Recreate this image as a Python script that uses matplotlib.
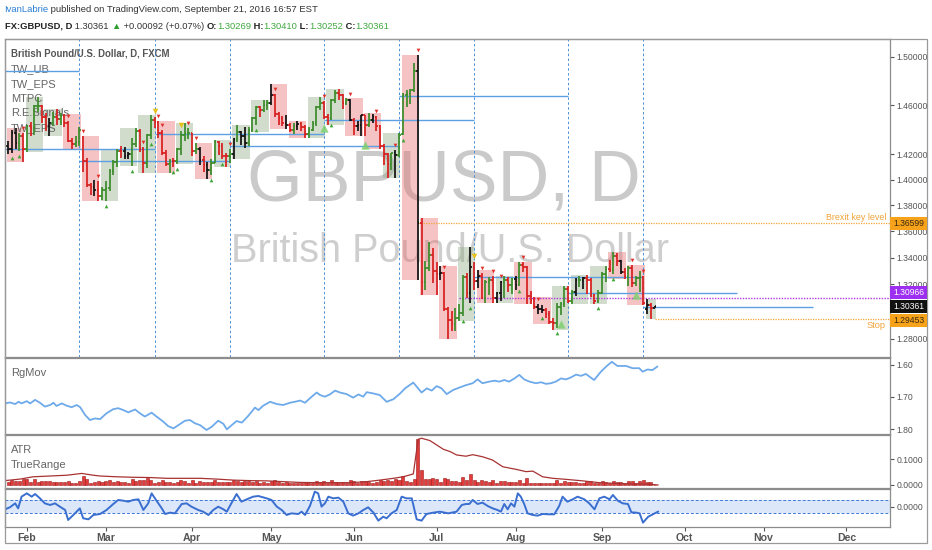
import numpy as np
import matplotlib
matplotlib.use("Agg")
import matplotlib.pyplot as plt
from matplotlib.collections import LineCollection
from matplotlib.patches import Rectangle
from matplotlib.ticker import FixedLocator, FixedFormatter, NullLocator

# ---- daily GBPUSD bars, one row per week (Mon..Fri), 2016-01-25 .. 2016-09-21
first_day = "2016-01-25"
last_day = "2016-09-21"

opens = [1.4265, 1.4240, 1.4370, 1.4290, 1.4350,
         1.4245, 1.4425, 1.4415, 1.4590, 1.4595,
         1.4500, 1.4425, 1.4455, 1.4500, 1.4485,
         1.4510, 1.4455, 1.4305, 1.4285, 1.4300,
         1.4330, 1.4145, 1.3955, 1.3940, 1.3915,
         1.3870, 1.3920, 1.3935, 1.4070, 1.4140,
         1.4230, 1.4225, 1.4190, 1.4200, 1.4285,
         1.4390, 1.4240, 1.4130, 1.4355, 1.4475,
         1.4460, 1.4375, 1.4215, 1.4120, 1.4150,
         1.4145, 1.4245, 1.4360, 1.4370, 1.4370,
         1.4225, 1.4245, 1.4155, 1.4115, 1.4080,
         1.4135, 1.4300, 1.4270, 1.4190, 1.4185,
         1.4200, 1.4325, 1.4380, 1.4350, 1.4290,
         1.4400, 1.4490, 1.4580, 1.4560, 1.4600,
         1.4615, 1.4680, 1.4525, 1.4490, 1.4450,
         1.4440, 1.4395, 1.4430, 1.4445, 1.4420,
         1.4365, 1.4395, 1.4450, 1.4585, 1.4620,
         1.4500, 1.4490, 1.4640, 1.4700, 1.4680,
         1.4620, 1.4640, 1.4480, 1.4430, 1.4435,
         1.4515, 1.4440, 1.4480, 1.4500, 1.4430,
         1.4265, 1.4205, 1.4120, 1.4210, 1.4195,
         1.4365, 1.4680, 1.4690, 1.4720, 1.4880,
         1.3660, 1.3220, 1.3325, 1.3420, 1.3300,
         1.3275, 1.3285, 1.3020, 1.2940, 1.2910,
         1.2950, 1.2985, 1.3255, 1.3135, 1.3330,
         1.3225, 1.3260, 1.3100, 1.3220, 1.3235,
         1.3100, 1.3135, 1.3215, 1.3230, 1.3195,
         1.3240, 1.3195, 1.3345, 1.3330, 1.3110,
         1.3085, 1.3035, 1.3015, 1.3010, 1.2980,
         1.2925, 1.2915, 1.3035, 1.3055, 1.3165,
         1.3075, 1.3145, 1.3230, 1.3235, 1.3245,
         1.3230, 1.3110, 1.3080, 1.3135, 1.3275,
         1.3315, 1.3305, 1.3410, 1.3375, 1.3295,
         1.3265, 1.3325, 1.3210, 1.3245, 1.3255,
         1.3020, 1.3045, 1.30269]

highs = [1.4305, 1.4395, 1.4410, 1.4375, 1.4370,
         1.4440, 1.4465, 1.4600, 1.4668, 1.4600,
         1.4535, 1.4490, 1.4545, 1.4570, 1.4535,
         1.4525, 1.4470, 1.4335, 1.4350, 1.4420,
         1.4345, 1.4175, 1.3970, 1.3995, 1.3990,
         1.3945, 1.3990, 1.4085, 1.4155, 1.4245,
         1.4270, 1.4260, 1.4220, 1.4330, 1.4410,
         1.4405, 1.4260, 1.4365, 1.4515, 1.4505,
         1.4470, 1.4400, 1.4235, 1.4160, 1.4175,
         1.4255, 1.4385, 1.4455, 1.4410, 1.4375,
         1.4295, 1.4260, 1.4185, 1.4140, 1.4165,
         1.4315, 1.4310, 1.4290, 1.4215, 1.4245,
         1.4335, 1.4440, 1.4390, 1.4420, 1.4420,
         1.4500, 1.4590, 1.4590, 1.4640, 1.4640,
         1.4770, 1.4690, 1.4545, 1.4510, 1.4515,
         1.4450, 1.4455, 1.4470, 1.4460, 1.4440,
         1.4420, 1.4470, 1.4590, 1.4670, 1.4635,
         1.4525, 1.4650, 1.4720, 1.4735, 1.4690,
         1.4660, 1.4650, 1.4495, 1.4470, 1.4520,
         1.4520, 1.4535, 1.4530, 1.4510, 1.4435,
         1.4285, 1.4215, 1.4215, 1.4235, 1.4370,
         1.4700, 1.4720, 1.4730, 1.4950, 1.5018,
         1.3705, 1.3375, 1.3520, 1.3470, 1.3365,
         1.3340, 1.3290, 1.3035, 1.3000, 1.3025,
         1.3055, 1.3270, 1.3285, 1.3480, 1.3370,
         1.3305, 1.3285, 1.3235, 1.3255, 1.3260,
         1.3145, 1.3225, 1.3265, 1.3255, 1.3250,
         1.3260, 1.3370, 1.3370, 1.3340, 1.3150,
         1.3105, 1.3055, 1.3045, 1.3025, 1.3000,
         1.2955, 1.3060, 1.3070, 1.3185, 1.3185,
         1.3155, 1.3245, 1.3260, 1.3255, 1.3270,
         1.3245, 1.3130, 1.3155, 1.3290, 1.3340,
         1.3380, 1.3445, 1.3435, 1.3385, 1.3320,
         1.3340, 1.3345, 1.3265, 1.3300, 1.3260,
         1.3090, 1.3060, 1.30410]

lows = [1.4200, 1.4215, 1.4240, 1.4230, 1.4140,
        1.4220, 1.4350, 1.4360, 1.4545, 1.4455,
        1.4390, 1.4350, 1.4425, 1.4440, 1.4435,
        1.4420, 1.4300, 1.4240, 1.4260, 1.4270,
        1.4060, 1.3945, 1.3880, 1.3870, 1.3835,
        1.3840, 1.3835, 1.3910, 1.4035, 1.4100,
        1.4170, 1.4160, 1.4160, 1.4110, 1.4260,
        1.4220, 1.4055, 1.4095, 1.4325, 1.4410,
        1.4335, 1.4195, 1.4105, 1.4055, 1.4100,
        1.4125, 1.4195, 1.4310, 1.4325, 1.4185,
        1.4200, 1.4115, 1.4060, 1.4005, 1.4040,
        1.4130, 1.4195, 1.4165, 1.4100, 1.4135,
        1.4160, 1.4300, 1.4275, 1.4255, 1.4265,
        1.4380, 1.4440, 1.4500, 1.4540, 1.4560,
        1.4600, 1.4500, 1.4440, 1.4430, 1.4405,
        1.4380, 1.4365, 1.4400, 1.4390, 1.4335,
        1.4335, 1.4385, 1.4430, 1.4560, 1.4485,
        1.4435, 1.4475, 1.4620, 1.4640, 1.4570,
        1.4600, 1.4470, 1.4355, 1.4390, 1.4350,
        1.4350, 1.4420, 1.4450, 1.4385, 1.4245,
        1.4115, 1.4010, 1.4075, 1.4010, 1.4180,
        1.4360, 1.4580, 1.4610, 1.4705, 1.3229,
        1.3120, 1.3160, 1.3300, 1.3210, 1.3120,
        1.3230, 1.3005, 1.2798, 1.2860, 1.2855,
        1.2930, 1.2970, 1.3095, 1.3060, 1.3160,
        1.3175, 1.3090, 1.3065, 1.3120, 1.3065,
        1.3060, 1.3080, 1.3100, 1.3145, 1.3130,
        1.3160, 1.3190, 1.3290, 1.3055, 1.3055,
        1.3020, 1.2980, 1.2985, 1.2950, 1.2910,
        1.2865, 1.2880, 1.2975, 1.3035, 1.3065,
        1.3055, 1.3110, 1.3180, 1.3165, 1.3125,
        1.3105, 1.3055, 1.3065, 1.3125, 1.3215,
        1.3295, 1.3280, 1.3335, 1.3275, 1.3240,
        1.3185, 1.3180, 1.3185, 1.3140, 1.3050,
        1.2980, 1.2945, 1.30252]

closes = [1.4240, 1.4370, 1.4290, 1.4350, 1.4245,
          1.4425, 1.4415, 1.4590, 1.4595, 1.4500,
          1.4425, 1.4455, 1.4500, 1.4485, 1.4510,
          1.4455, 1.4305, 1.4285, 1.4300, 1.4400,
          1.4145, 1.3955, 1.3940, 1.3915, 1.3870,
          1.3920, 1.3935, 1.4070, 1.4140, 1.4230,
          1.4225, 1.4190, 1.4200, 1.4285, 1.4390,
          1.4240, 1.4130, 1.4355, 1.4475, 1.4460,
          1.4375, 1.4215, 1.4120, 1.4150, 1.4145,
          1.4245, 1.4360, 1.4370, 1.4370, 1.4225,
          1.4245, 1.4155, 1.4115, 1.4080, 1.4135,
          1.4300, 1.4270, 1.4190, 1.4185, 1.4200,
          1.4325, 1.4380, 1.4350, 1.4290, 1.4400,
          1.4490, 1.4580, 1.4560, 1.4600, 1.4615,
          1.4680, 1.4525, 1.4490, 1.4450, 1.4440,
          1.4395, 1.4430, 1.4445, 1.4420, 1.4365,
          1.4395, 1.4450, 1.4585, 1.4620, 1.4500,
          1.4490, 1.4640, 1.4700, 1.4680, 1.4620,
          1.4640, 1.4480, 1.4430, 1.4435, 1.4515,
          1.4440, 1.4480, 1.4500, 1.4430, 1.4265,
          1.4205, 1.4120, 1.4210, 1.4195, 1.4360,
          1.4680, 1.4690, 1.4720, 1.4880, 1.3660,
          1.3220, 1.3325, 1.3420, 1.3300, 1.3275,
          1.3285, 1.3020, 1.2940, 1.2910, 1.2950,
          1.2985, 1.3255, 1.3135, 1.3330, 1.3225,
          1.3260, 1.3100, 1.3220, 1.3235, 1.3100,
          1.3135, 1.3215, 1.3230, 1.3195, 1.3240,
          1.3195, 1.3345, 1.3330, 1.3110, 1.3085,
          1.3035, 1.3015, 1.3010, 1.2980, 1.2925,
          1.2915, 1.3035, 1.3055, 1.3165, 1.3075,
          1.3145, 1.3230, 1.3235, 1.3245, 1.3230,
          1.3110, 1.3080, 1.3135, 1.3275, 1.3315,
          1.3305, 1.3410, 1.3375, 1.3295, 1.3265,
          1.3325, 1.3210, 1.3245, 1.3255, 1.3060,
          1.3045, 1.30269, 1.30361]

# bars painted black by the trend indicator (bar numbers)
black_bars = [0, 1, 2, 11, 23, 31, 32, 51, 53, 60, 62, 63, 70, 74, 77, 91, 93, 94,
              97, 103, 109, 115, 123, 125, 130, 131, 135, 141, 142, 151, 153, 163,
              170, 172]

# signal markers (bar numbers)
sell_marks = [4, 16, 20, 24, 36, 40, 41, 48, 50, 59, 71, 84, 91, 98, 103, 109, 116,
              126, 129, 131, 137, 141, 166, 169]
buy_marks = [1, 3, 26, 33, 38, 44, 45, 54, 57, 66, 86, 105, 121, 123, 136, 142, 146,
             157, 161]
big_buy_marks = [84, 95, 147, 167]
yellow_marks = [39, 46, 124]

# monthly option expiries and TW_UB levels (each level lives two expiries)
opex_dates = ["2015-12-18", "2016-01-15", "2016-02-19", "2016-03-18", "2016-04-15",
              "2016-05-20", "2016-06-17", "2016-07-15", "2016-08-19", "2016-09-16",
              "2016-10-21", "2016-11-18", "2016-12-16"]
ub_levels = [1.4883, 1.4243, 1.4147, 1.4364, 1.4268, 1.4478, 1.4675, 1.3254,
             1.3135, 1.3029]

brexit_level = 1.36599
brexit_from = "2016-06-24"
purple_level = 1.30966
purple_from = "2016-07-11"
stop_level = 1.29453
stop_from = "2016-09-21"

price_ticks = [1.28, 1.32, 1.34, 1.36, 1.38, 1.40, 1.42, 1.46, 1.50]

month_starts = ["2016-02", "2016-03", "2016-04", "2016-05", "2016-06", "2016-07",
                "2016-08", "2016-09", "2016-10", "2016-11", "2016-12"]
month_labels = ["Feb", "Mar", "Apr", "May", "Jun", "Jul", "Aug", "Sep", "Oct",
                "Nov", "Dec"]

# RgMov line (bar position, value)
rg_x = [-0.8, 0.5, 1.9, 2.8, 3.6, 5.0, 5.9, 7.2, 8.5, 9.8,
        11.2, 12.1, 12.9, 14.3, 15.6, 16.9, 18.3, 19.2, 20.5, 21.8,
        23.1, 24.5, 26.2, 28.0, 29.3, 30.7, 32.0, 33.8, 35.1, 36.4,
        38.2, 39.5, 41.3, 42.6, 44.0, 45.3, 47.1, 48.4, 49.7, 51.1,
        52.8, 54.2, 55.9, 57.3, 58.2, 59.5, 60.8, 62.2, 63.9, 65.7,
        66.6, 67.9, 69.7, 71.5, 73.2, 75.0, 76.3, 77.7, 79.0, 80.3,
        82.1, 83.0, 84.3, 85.6, 87.0, 88.3, 90.1, 91.8, 93.2, 94.5,
        95.4, 97.2, 98.9, 100.7, 102.5, 104.3, 105.6, 107.8, 110.0, 111.4,
        112.7, 114.0, 115.3, 116.7, 118.4, 120.2, 121.8, 123.6, 124.9, 126.2,
        128.0, 129.4, 130.7, 132.0, 133.3, 134.7, 136.0, 137.3, 138.7, 140.4,
        141.8, 143.1, 144.4, 145.7, 147.1, 148.4, 149.7, 151.1, 152.4, 153.7,
        155.9, 157.7, 159.1, 160.6, 162.1, 164.4, 166.1, 167.9, 168.8, 170.1,
        171.4, 172.7]
rg_val = [1.720, 1.717, 1.722, 1.715, 1.720, 1.713, 1.720, 1.709, 1.718, 1.730,
          1.725, 1.718, 1.728, 1.720, 1.727, 1.732, 1.725, 1.732, 1.756, 1.772,
          1.767, 1.769, 1.751, 1.738, 1.735, 1.741, 1.748, 1.739, 1.751, 1.761,
          1.749, 1.761, 1.777, 1.791, 1.798, 1.788, 1.774, 1.772, 1.782, 1.788,
          1.803, 1.793, 1.774, 1.784, 1.801, 1.788, 1.775, 1.780, 1.759, 1.733,
          1.741, 1.727, 1.715, 1.722, 1.725, 1.718, 1.715, 1.711, 1.718, 1.704,
          1.686, 1.694, 1.699, 1.692, 1.680, 1.686, 1.691, 1.702, 1.692, 1.699,
          1.685, 1.689, 1.694, 1.715, 1.707, 1.689, 1.673, 1.655, 1.686, 1.673,
          1.680, 1.666, 1.673, 1.691, 1.678, 1.670, 1.663, 1.657, 1.645, 1.657,
          1.652, 1.649, 1.652, 1.647, 1.652, 1.642, 1.631, 1.645, 1.652, 1.657,
          1.654, 1.659, 1.657, 1.652, 1.642, 1.645, 1.639, 1.630, 1.634, 1.628,
          1.647, 1.621, 1.605, 1.590, 1.603, 1.603, 1.610, 1.610, 1.621, 1.614,
          1.616, 1.605]

# ATR line (bar position, value)
atr_x = [-0.8, 3.2, 6.7, 11.2, 15.6, 19.6, 22.7, 24.5, 28.9, 33.3,
         37.8, 42.2, 46.6, 51.1, 55.5, 59.9, 64.4, 68.8, 73.2, 77.7,
         82.1, 86.5, 91.0, 95.4, 98.9, 102.5, 105.1, 107.8, 109.1, 110.0,
         112.2, 114.0, 115.8, 117.6, 119.3, 121.8, 123.6, 126.2, 128.9, 131.6,
         135.1, 137.8, 139.6, 142.2, 144.9, 148.4, 152.9, 157.3, 161.8, 166.2,
         169.7, 172.9]
atr_val = [0.017, 0.023, 0.032, 0.035, 0.038, 0.045, 0.038, 0.035, 0.032, 0.030,
           0.029, 0.026, 0.026, 0.026, 0.023, 0.019, 0.017, 0.016, 0.013, 0.010,
           0.009, 0.009, 0.009, 0.013, 0.019, 0.026, 0.032, 0.043, 0.178, 0.182,
           0.173, 0.156, 0.139, 0.130, 0.117, 0.112, 0.118, 0.110, 0.097, 0.071,
           0.061, 0.052, 0.054, 0.032, 0.026, 0.022, 0.016, 0.009, 0.006, 0.004,
           0.004, 0.000]

# bottom oscillator (bar position, value), band at +-100
osc_x = [-0.8, 0.5, 1.9, 2.7, 3.6, 5.0, 6.3, 7.2, 8.5, 9.8,
         11.2, 12.5, 13.8, 15.2, 16.0, 16.9, 17.8, 19.1, 20.0, 21.4,
         22.7, 24.5, 26.2, 28.0, 29.3, 30.7, 32.0, 33.3, 34.7, 36.0,
         37.3, 38.2, 39.5, 40.9, 41.8, 43.1, 44.4, 46.2, 47.5, 48.8,
         50.6, 51.9, 53.3, 54.6, 55.9, 57.3, 58.2, 59.5, 60.8, 62.1,
         63.5, 65.2, 66.6, 68.8, 70.1, 71.5, 72.8, 74.1, 75.4, 77.2,
         78.1, 79.0, 80.3, 81.6, 82.5, 83.4, 84.3, 85.2, 86.5, 87.9,
         89.2, 90.5, 91.8, 93.2, 94.5, 95.8, 97.2, 98.5, 99.8, 100.7,
         102.0, 103.4, 104.7, 106.0, 107.4, 108.7, 110.0, 111.3, 113.1, 114.9,
         117.1, 119.3, 120.7, 121.8, 122.7, 123.6, 124.9, 126.2, 127.6, 128.9,
         130.2, 131.1, 132.0, 132.9, 133.8, 134.7, 135.6, 136.4, 137.3, 138.2,
         139.6, 140.9, 142.2, 144.0, 145.3, 146.6, 147.5, 148.8, 150.2, 151.5,
         153.3, 154.6, 156.0, 157.3, 158.6, 160.0, 160.9, 162.2, 163.5, 164.9,
         165.8, 167.1, 168.0, 168.9, 170.3, 171.5, 172.9]
osc_val = [-39, -8, 53, -24, 156, 207, 156, 197, 130, 53,
           28, 53, 2, -49, -203, -152, -101, -24, -177, -193,
           -126, -111, -49, 43, 105, 94, 79, 105, 115, -49,
           53, 207, 94, -24, -111, -90, -101, 43, 53, 2,
           -49, -75, -126, -49, 2, -39, -75, 64, 197, 79,
           115, 156, 166, 130, 105, 2, -49, -126, -101, -111,
           -75, -126, 12, 233, 207, 2, 53, 156, 130, 141,
           79, -101, -136, -101, -49, -8, -90, -213, -152, -177,
           -101, -49, 156, 130, 130, -193, -213, -111, -90, -75,
           -101, -75, 28, 43, 43, 105, 43, 64, 12, -24,
           -49, -75, 43, -39, 53, 2, 207, 156, 43, -101,
           -126, -136, -111, -116, -116, 12, 156, 79, 115, 156,
           115, 53, -39, 130, 156, 115, 182, 94, 53, 43,
           -85, -90, -101, -244, -152, -116, -75]
osc_band = 100

# ------------------------------------------------------------------
W, H = 932, 550
fig = plt.figure(figsize=(W / 100, H / 100), dpi=100)
fig.patch.set_facecolor("white")
renderer = fig.canvas.get_renderer()
NARROW = ["Liberation Sans Narrow", "Liberation Sans", "DejaVu Sans"]

GREEN, RED, BLACK = "#3b8c2a", "#d81f1f", "#111111"
GRID_GRAY = "#8c8c8c"
LABEL_GRAY = "#555555"
TEXT_GRAY = "#666666"


def frac(x0, y0, x1, y1):
    return [x0 / W, 1 - y1 / H, (x1 - x0) / W, (y1 - y0) / H]


def ptext(x, y, s, **kw):
    return fig.text(x / W, 1 - y / H, s, **kw)


def fit_text(owner, x, y, s, width, size=10, **kw):
    t = owner.text(x / W, 1 - y / H, s, transform=fig.transFigure, fontsize=size,
                   family=kw.pop("family", NARROW), **kw)
    t.set_fontsize(size * width / t.get_window_extent(renderer).width)
    return t


def label(owner, x, y, s, size, **kw):
    return owner.text(x / W, 1 - y / H, s, transform=fig.transFigure, fontsize=size,
                      family=NARROW, color=kw.pop("color", TEXT_GRAY), va="center",
                      **kw)


def bar_no(d):
    return int(np.busday_count(np.datetime64(first_day), np.datetime64(d)))


def text_row(x, y, parts, width, size):
    arts = []
    for _ in range(2):
        for a in arts:
            a.remove()
        arts, cx = [], x
        for s, col, wt in parts:
            t = ptext(cx, y, s, color=col, fontweight=wt, fontsize=size,
                      family=NARROW, va="center", ha="left")
            cx += t.get_window_extent(renderer).width
            arts.append(t)
        size *= width / (cx - x)
    return arts


n = len(closes)
xs = np.arange(n)
o, h, l, c = map(np.array, (opens, highs, lows, closes))
XMIN, XMAX = -0.8, 234.6

ax = fig.add_axes(frac(5, 39, 890, 356.5))
ax_rg = fig.add_axes(frac(5, 357.5, 890, 434))
ax_atr = fig.add_axes(frac(5, 435, 890, 488))
ax_osc = fig.add_axes(frac(5, 489, 890, 527))

for a in (ax, ax_rg, ax_atr, ax_osc):
    a.set_xlim(XMIN, XMAX)
    for sp in a.spines.values():
        sp.set_color(GRID_GRAY)
        sp.set_linewidth(0.9)
    a.yaxis.tick_right()
    a.tick_params(axis="y", direction="out", length=3, pad=1.5, labelsize=6.2,
                  colors=LABEL_GRAY, labelfontfamily="Liberation Sans")
    a.tick_params(axis="x", bottom=False, labelbottom=False)

# ---- main price panel (log scale)
ax.set_yscale("log")
ax.set_ylim(1.26746, 1.51524)
ax.yaxis.set_major_locator(FixedLocator(price_ticks))
ax.yaxis.set_major_formatter(FixedFormatter([f"{t:.5f}" for t in price_ticks]))
ax.yaxis.set_minor_locator(NullLocator())

# watermark
fit_text(ax, 247, 200, "GBPUSD, D", 394, size=60, color="#cacaca", va="baseline",
         zorder=0.6)
fit_text(ax, 231, 262, "British Pound/U.S. Dollar", 438, size=30, color="#cecece",
         va="baseline", zorder=0.6)

# legend texts (behind the bars)
title = fit_text(ax, 11, 54, "British Pound/U.S. Dollar, D, FXCM", 160,
                 color="#555555", fontweight="bold", va="center", zorder=1.2)
LEG = title.get_fontsize() * 1.15
for k, name in enumerate(["TW_UB", "TW_EPS", "MTPC", "R.E.Signals", "TW_EPS"]):
    label(ax, 11, 69 + 14.8 * k, name, LEG, zorder=1.2)

# weekly range boxes
week = xs // 5
for wk in np.unique(week):
    idx = xs[week == wk]
    up = c[idx[-1]] >= o[idx[0]]
    ax.add_patch(Rectangle((idx[0] - 0.3, l[idx].min()), idx[-1] - idx[0] + 0.6,
                           h[idx].max() - l[idx].min(),
                           fc=(0.55, 0.66, 0.50, 0.40) if up else (0.91, 0.42, 0.42, 0.40),
                           ec="none", zorder=1))

# option expiry verticals and TW_UB levels
opex_idx = [bar_no(d) for d in opex_dates]
for k in range(2, 10):
    ax.axvline(opex_idx[k], color="#4a8fd8", lw=0.7, ls=(0, (2.5, 2.5)), zorder=1.5)
for k, lev in enumerate(ub_levels):
    ax.plot([opex_idx[k], opex_idx[k + 2]], [lev, lev], color="#5c9fe3", lw=1.0,
            zorder=2, solid_capstyle="butt")

ax.plot([bar_no(brexit_from), XMAX], [brexit_level] * 2, color="#f3a53a", lw=0.9,
        ls=(0, (1, 1)), zorder=2)
ax.plot([bar_no(purple_from), XMAX], [purple_level] * 2, color="#b03ae0", lw=1.0,
        ls=(0, (1, 1)), zorder=2)
ax.plot([bar_no(stop_from), XMAX], [stop_level] * 2, color="#f3a53a", lw=0.9,
        ls=(0, (1, 1)), zorder=2)
fit_text(ax, 826, 217, "Brexit key level", 60, color="#f0a33a", va="center")
fit_text(ax, 867, 325.5, "Stop", 19, color="#f0a33a", va="center")

# OHLC bars
cols = [BLACK if i in black_bars else (GREEN if c[i] >= o[i] else RED) for i in xs]
segs, seg_cols = [], []
for i in xs:
    segs += [[(i, l[i]), (i, h[i])], [(i - 0.45, o[i]), (i, o[i])],
             [(i, c[i]), (i + 0.45, c[i])]]
    seg_cols += [cols[i]] * 3
ax.add_collection(LineCollection(segs, colors=seg_cols, linewidths=1.25,
                                 capstyle="butt", zorder=4))

up_off = np.exp(5 / 1778)
ax.scatter(sell_marks, h[sell_marks] * up_off, marker="v", s=7, color="#e0302a",
           lw=0, zorder=5)
ax.scatter(yellow_marks, h[yellow_marks] * up_off ** 1.2, marker="v", s=16,
           color="#e8c21a", lw=0, zorder=5)
ax.scatter(buy_marks, l[buy_marks] / up_off, marker="^", s=7, color="#3fa535",
           lw=0, zorder=5)
ax.scatter(big_buy_marks, l[big_buy_marks] / up_off ** 1.8, marker="^", s=36,
           color="#7fd070", alpha=0.85, lw=0, zorder=5)

# ---- RgMov
ax_rg.set_ylim(1.8156, 1.5766)
ax_rg.plot(rg_x, rg_val, color="#6eaaea", lw=1.3)
ax_rg.set_yticks([1.60, 1.70, 1.80])
ax_rg.set_yticklabels(["1.60", "1.70", "1.80"])
label(ax_rg, 11, 373, "RgMov", LEG)

# ---- ATR / TrueRange
prev_c = np.r_[c[0], c[:-1]]
true_range = np.maximum(h, prev_c) - np.minimum(l, prev_c)
ax_atr.set_ylim(-0.0117, 0.1946)
ax_atr.bar(xs, true_range, width=0.8, color="#e23b3b", edgecolor="#9c1a1a", lw=0.4,
           zorder=2)
ax_atr.plot(atr_x, atr_val, color="#a83232", lw=0.9, zorder=3)
ax_atr.set_yticks([0.0, 0.1])
ax_atr.set_yticklabels(["0.0000", "0.1000"])
label(ax_atr, 11, 450, "ATR", LEG)
label(ax_atr, 11, 465.5, "TrueRange", LEG)

# ---- oscillator
ax_osc.set_ylim(-311, 274)
ax_osc.fill_between([XMIN, XMAX], -osc_band, osc_band, color="#dce7fa", lw=0, zorder=1)
for lev in (-osc_band, osc_band):
    ax_osc.axhline(lev, color="#3e78d8", lw=0.7, ls=(0, (3, 2)), zorder=2)
ax_osc.plot(osc_x, osc_val, color="#3a6fd0", lw=1.4, zorder=3)
ax_osc.set_yticks([0])
ax_osc.set_yticklabels(["0.0000"])
label(ax_osc, 11, 505, "CCI", LEG, color="#8a8a8a", zorder=0)

month_idx = [bar_no(np.busday_offset(np.datetime64(m + "-01"), 0, roll="forward"))
             for m in month_starts]
ax_osc.set_xticks(month_idx)
ax_osc.set_xticklabels(month_labels)
ax_osc.tick_params(axis="x", bottom=True, labelbottom=True, direction="out", length=3,
                   pad=1.5, colors=LABEL_GRAY, labelsize=7.6)
for t in ax_osc.get_xticklabels():
    t.set_fontweight("bold")
    t.set_family(NARROW)

# ---- outer frame
fig.add_artist(Rectangle((5 / W, 1 - 543 / H), 922 / W, 504 / H, fill=False,
                         ec="#9a9a9a", lw=0.9, transform=fig.transFigure))

# ---- price labels on the right scale
for price, bg, fg, shift in [(brexit_level, "#f7a21b", "#3a2a10", 0.0),
                             (purple_level, "#9d2ff0", "white", 5.5),
                             (closes[-1], "#111111", "white", 0.0),
                             (stop_level, "#f7a21b", "#3a2a10", -2.0)]:
    yd = ax.transData.transform((0, price))[1] + shift
    fig.add_artist(Rectangle((890 / W, (yd - 6.5) / H), 37 / W, 13 / H, fc=bg, ec="none",
                             transform=fig.transFigure, zorder=10))
    fig.text(893 / W, yd / H, f"{price:.5f}", color=fg, fontsize=6.2,
             family="Liberation Sans", va="center", ha="left", zorder=11)

# ---- header
last, prev = closes[-1], closes[-2]
chg = last - prev
text_row(4, 10, [("IvanLabrie", "#2a7fd4", "normal"),
                 (" published on TradingView.com, September 21, 2016 16:57 EST",
                  "#333333", "normal")], 315, 9)
val_green = "#3fa83f"
text_row(5, 26.5, [("FX:GBPUSD, D", "#222222", "bold"),
                   (f" {last:.5f} ", "#333333", "normal"),
                   ("\u25b2", "#2e9e2e", "normal"),
                   (f" +{chg:.5f} (+{chg / prev * 100:.2f}%) ", "#333333", "normal"),
                   ("O:", "#222222", "bold"), (f"{opens[-1]:.5f}", val_green, "normal"),
                   (" H:", "#222222", "bold"), (f"{highs[-1]:.5f}", val_green, "normal"),
                   (" L:", "#222222", "bold"), (f"{lows[-1]:.5f}", val_green, "normal"),
                   (" C:", "#222222", "bold"), (f"{closes[-1]:.5f}", val_green, "normal")],
         386, 9)

fig.savefig("out.png", dpi=100, facecolor="white")
